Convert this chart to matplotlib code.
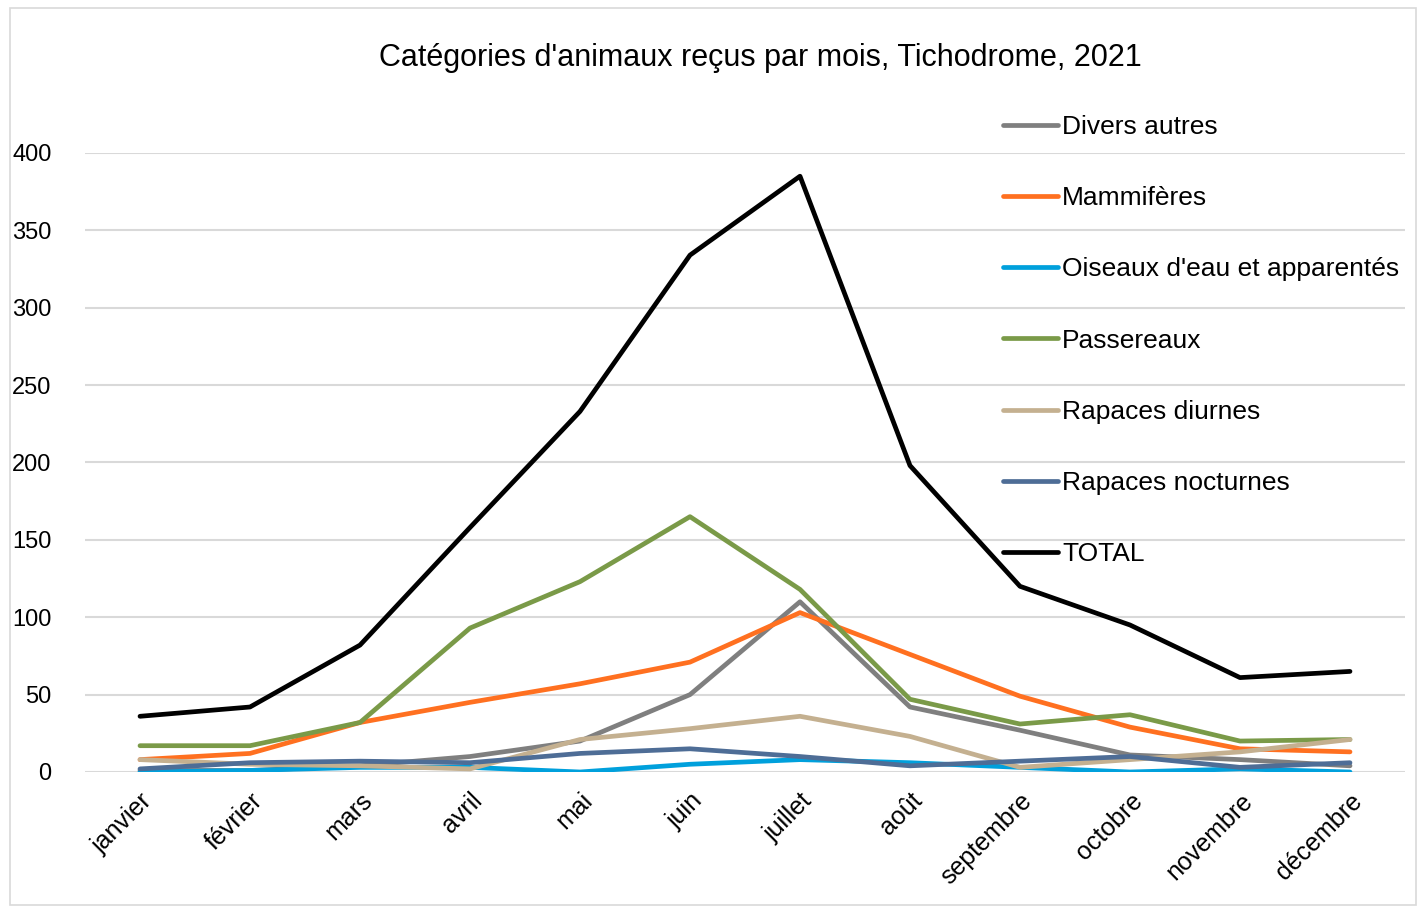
import matplotlib
matplotlib.use("Agg")
import matplotlib.pyplot as plt
from matplotlib.patches import Rectangle

months = ["janvier", "février", "mars", "avril", "mai", "juin", "juillet",
          "août", "septembre", "octobre", "novembre", "décembre"]
divers_autres = [1, 1, 4, 10, 20, 50, 110, 42, 27, 11, 8, 4]
mammiferes = [8, 12, 32, 45, 57, 71, 103, 76, 49, 29, 15, 13]
oiseaux_eau = [0, 1, 3, 3, 0, 5, 8, 6, 3, 0, 2, 0]
passereaux = [17, 17, 32, 93, 123, 165, 118, 47, 31, 37, 20, 21]
rapaces_diurnes = [8, 5, 4, 2, 21, 28, 36, 23, 3, 8, 13, 21]
rapaces_nocturnes = [2, 6, 7, 6, 12, 15, 10, 4, 7, 10, 3, 6]
total = [36, 42, 82, 158, 233, 334, 385, 198, 120, 95, 61, 65]

series = [
    ("Divers autres", divers_autres, "#7f7f7f"),
    ("Mammifères", mammiferes, "#ff7020"),
    ("Oiseaux d'eau et apparentés", oiseaux_eau, "#00a0dc"),
    ("Passereaux", passereaux, "#7a9a48"),
    ("Rapaces diurnes", rapaces_diurnes, "#c4b090"),
    ("Rapaces nocturnes", rapaces_nocturnes, "#4e6d96"),
    ("TOTAL", total, "#000000"),
]

plt.rcParams['font.family'] = ['Liberation Sans', 'DejaVu Sans']

fig = plt.figure(figsize=(14.18, 9.07), dpi=100)
W, H = 1418, 907
ax = fig.add_axes([85 / W, 1 - 772 / H, (1405 - 85) / W, (772 - 153) / H])

x = list(range(len(months)))
for name, vals, col in series:
    ax.plot(x, vals, color=col, lw=3.4, label=name, solid_capstyle='round',
            solid_joinstyle='round')

ax.set_xlim(-0.5, 11.5)
ax.set_ylim(0, 400)
ax.set_yticks(range(0, 401, 50))
ax.set_xticks(x)
ax.set_xticklabels(months, rotation=45, ha='right', rotation_mode='anchor',
                   fontsize=18)
ax.tick_params(axis='y', length=0, labelsize=17, pad=24)
ax.tick_params(axis='x', length=0, pad=12)
ax.grid(axis='y', color='#d9d9d9', lw=1.5)
ax.set_axisbelow(True)
for s in ax.spines.values():
    s.set_visible(False)

fig.text(760 / W, 1 - 58 / H, "Catégories d'animaux reçus par mois, Tichodrome, 2021",
         ha='center', va='center', fontsize=22)

leg = ax.legend(loc='upper left', bbox_to_anchor=(1003 / W, 1 - 115 / H),
                bbox_transform=fig.transFigure, frameon=False, fontsize=19,
                handlelength=2.1, handletextpad=0.15, labelspacing=1.79,
                borderpad=0, borderaxespad=0)

fig.patches.append(Rectangle((10 / W, 1 - 905 / H), (1416 - 10) / W, (905 - 8) / H,
                             transform=fig.transFigure, fill=False,
                             edgecolor='#d9d9d9', lw=1.2))

fig.savefig("out.png", dpi=100)
